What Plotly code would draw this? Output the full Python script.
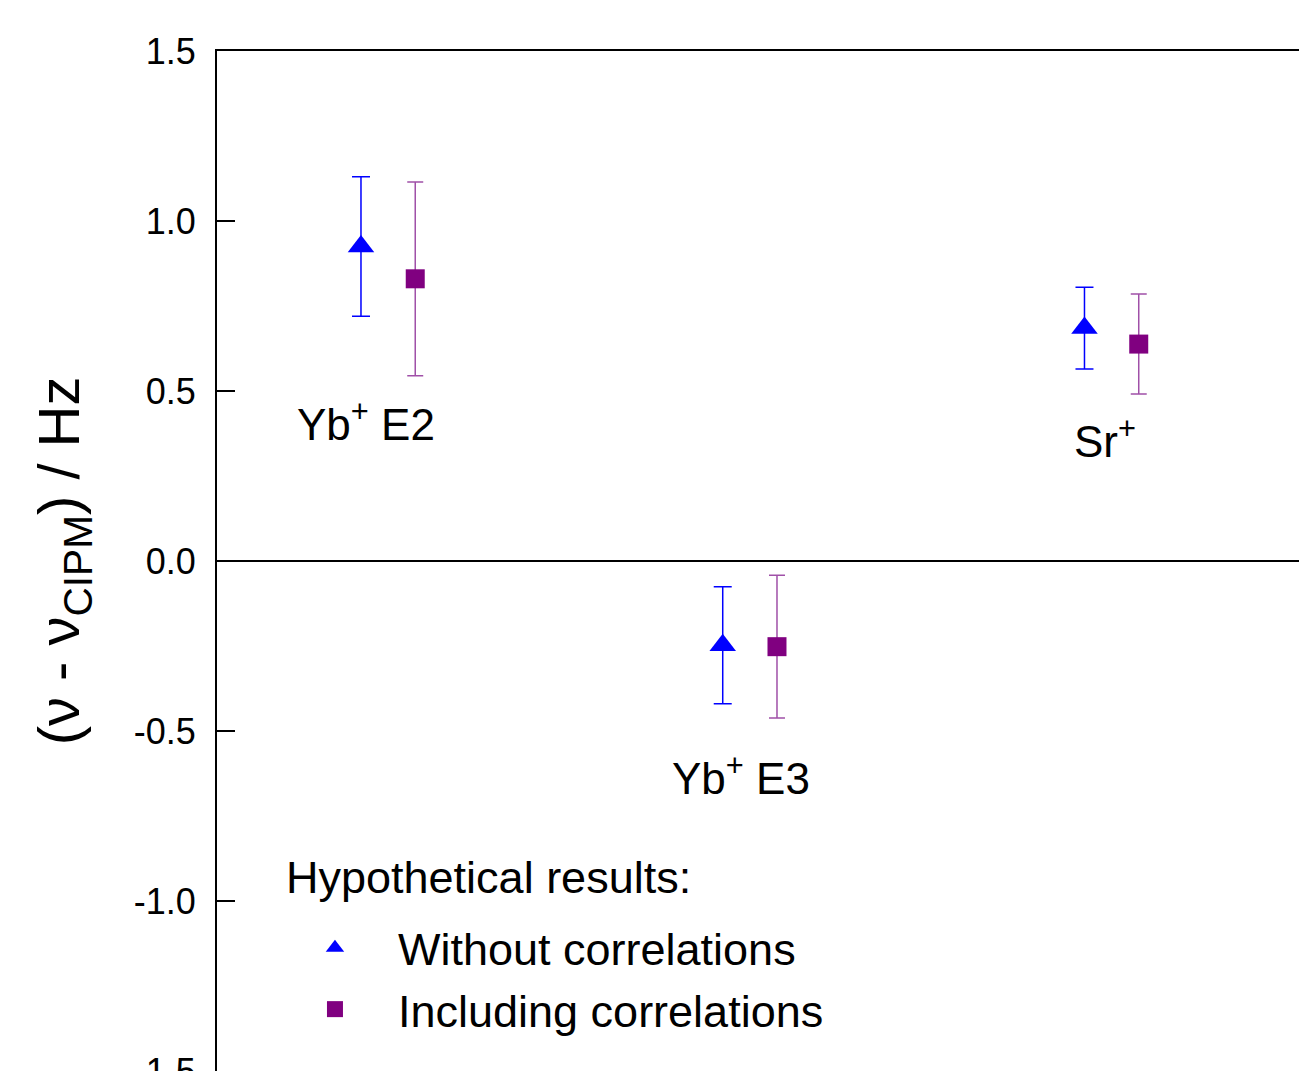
import plotly.graph_objects as go

# ---- data ----
categories = ["Yb<sup>+</sup> E2", "Yb<sup>+</sup> E3", "Sr<sup>+</sup>"]
cat_pos = [1, 2, 3]
without_vals = [0.925, -0.248, 0.685]
without_err = [0.205, 0.172, 0.120]
including_vals = [0.830, -0.252, 0.638]
including_err = [0.285, 0.210, 0.147]
label_x_shift = [-0.06, -0.025, -0.018]
label_y = [0.41, -0.63, 0.36]
y_ticks = [-1.5, -1.0, -0.5, 0.0, 0.5, 1.0, 1.5]
y_ticklabels = ["-1.5", "-1.0", "-0.5", "0.0", "0.5", "1.0", "1.5"]
legend_title = "Hypothetical results:"

OFF = 0.075
FONT = "Liberation Sans, Arial, sans-serif"

fig = go.Figure()
fig.add_trace(go.Scatter(
    x=[p - OFF for p in cat_pos], y=without_vals, mode="markers",
    name="Without correlations",
    marker=dict(symbol="triangle-up", size=23, color="#0000FF"),
    error_y=dict(type="data", array=without_err, visible=True,
                 color="#0000FF", thickness=1.5, width=9),
))
fig.add_trace(go.Scatter(
    x=[p + OFF for p in cat_pos], y=including_vals, mode="markers",
    name="Including correlations",
    marker=dict(symbol="square", size=19, color="#800080"),
    error_y=dict(type="data", array=including_err, visible=True,
                 color="#a050a8", thickness=1.5, width=8),
))

for c, p, dx, ly in zip(categories, cat_pos, label_x_shift, label_y):
    fig.add_annotation(x=p + dx, y=ly, xref="x", yref="y", text=c,
                       showarrow=False, xanchor="center", yanchor="middle",
                       font=dict(size=44, color="black", family=FONT))

# y-axis title
fig.add_annotation(x=-0.142, y=0.5, xref="paper", yref="paper",
                   text="(ν - ν<sub>CIPM</sub>) / Hz", textangle=-90,
                   showarrow=False, xanchor="center", yanchor="middle",
                   font=dict(size=58, color="black", family=FONT))

# legend heading
fig.add_annotation(x=0.0623, y=0.19, xref="paper", yref="paper",
                   text=legend_title, showarrow=False,
                   xanchor="left", yanchor="middle",
                   font=dict(size=45, color="black", family=FONT))

fig.update_layout(
    width=1291, height=1063,
    margin=dict(l=209, r=0, t=43, b=0, pad=0, autoexpand=False),
    paper_bgcolor="white", plot_bgcolor="white",
    font=dict(family=FONT, color="black"),
    showlegend=True,
    legend=dict(x=0.0508, y=0.156, xanchor="left", yanchor="top",
                bgcolor="rgba(0,0,0,0)", borderwidth=0,
                font=dict(size=45), itemwidth=116),
    xaxis=dict(range=[0.527, 3.518], showgrid=False, zeroline=False,
               showline=True, linecolor="black", linewidth=2, mirror=True,
               ticks="", showticklabels=False, automargin=False),
    yaxis=dict(range=[-1.5, 1.5], showgrid=False, zeroline=True,
               zerolinecolor="black", zerolinewidth=2,
               showline=True, linecolor="black", linewidth=2, mirror=False,
               tickmode="array", tickvals=y_ticks, ticktext=y_ticklabels,
               ticks="inside", ticklen=18, tickwidth=2, tickcolor="black",
               ticklabelstandoff=12, ticklabeloverflow="allow",
               automargin=False,
               tickfont=dict(size=36, color="black", family=FONT)),
)

fig.write_html("out.html")
